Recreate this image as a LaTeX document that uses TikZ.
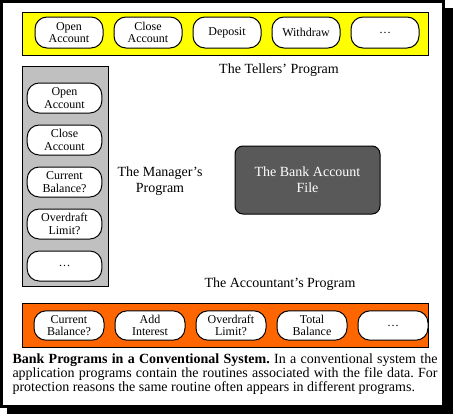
\documentclass[tikz,border=0pt]{standalone}
\usepackage{fontspec}
\setmainfont{Liberation Serif}
\usetikzlibrary{positioning}
\definecolor{TellerYellow}{HTML}{FFFF00}
\definecolor{ManagerGray}{HTML}{C0C0C0}
\definecolor{AcctOrange}{HTML}{FF6600}
\definecolor{FileGray}{HTML}{595959}

\begin{document}
\begin{tikzpicture}[x=0.75pt,y=-0.75pt,node distance=7.5pt,line width=0.75pt]
\tikzstyle{btn}=[rectangle,rounded corners=9pt,draw=black,fill=white,
                 minimum width=51pt,minimum height=23.25pt,inner sep=1pt,
                 align=center,font=\fontsize{9}{9.5}\selectfont]
\tikzstyle{lbl}=[align=center,font=\fontsize{10.5}{12}\selectfont]
\useasboundingbox (0,0) rectangle (457,414);
% frame with shadow
\fill[black] (7,8) rectangle (453,414);
\draw[line width=2.25pt,fill=white] (1.5,1.5) rectangle (443.5,406.5);
% the three programs
\draw[fill=TellerYellow] (22,12) rectangle (428,55);
\draw[fill=ManagerGray] (22,66) rectangle (108,286);
\draw[fill=AcctOrange] (22,303) rectangle (428,347);
\node[btn] (t1) at (69,32.5) {Open\\Account};
\node[btn,right=of t1] (t2) {Close\\Account};
\node[btn,right=of t2] (t3) {Deposit};
\node[btn,right=of t3] (t4) {Withdraw};
\node[btn,right=of t4] (t5) {\dots};
\node[btn,minimum width=56pt,minimum height=22.5pt] (m1) at (64.5,98) {Open\\Account};
\node[btn,minimum width=56pt,minimum height=22.5pt,below=8.25pt of m1] (m2) {Close\\Account};
\node[btn,minimum width=56pt,minimum height=22.5pt,below=8.25pt of m2] (m3) {Current\\Balance?};
\node[btn,minimum width=56pt,minimum height=22.5pt,below=8.25pt of m3] (m4) {Overdraft\\Limit?};
\node[btn,minimum width=56pt,minimum height=22.5pt,below=8.25pt of m4] (m5) {\dots};
\node[btn,minimum width=52.5pt,minimum height=22pt] (a1) at (69,325.5) {Current\\Balance?};
\node[btn,minimum width=52.5pt,minimum height=22pt,right=of a1] (a2) {Add\\Interest};
\node[btn,minimum width=52.5pt,minimum height=22pt,right=of a2] (a3) {Overdraft\\Limit?};
\node[btn,minimum width=52.5pt,minimum height=22pt,right=of a3] (a4) {Total\\Balance};
\node[btn,minimum width=52.5pt,minimum height=22pt,right=of a4] (a5) {\dots};
\node[lbl] (tellers) at (279,70) {The Tellers' Program};
\node[lbl] (manager) at (160,181) {The Manager's\\Program};
\node[lbl] (accountant) at (280,284) {The Accountant's Program};
% the shared file
\node[lbl,rectangle,rounded corners=6pt,draw=black,fill=FileGray,text=white,
      minimum width=108.75pt,minimum height=51pt] (file) at (307.5,180) {The Bank Account\\File};
\node[anchor=north west,text width=318.75pt,align=justify,inner sep=0pt,
      font=\fontsize{10.5}{10.5}\selectfont\frenchspacing] (caption) at (12,353)
  {\textbf{Bank Programs in a Conventional System.} In a conventional system the\linebreak
   application programs contain the routines associated with the file data. For\linebreak
   protection reasons the same routine often appears in different programs.};
\end{tikzpicture}
\end{document}
